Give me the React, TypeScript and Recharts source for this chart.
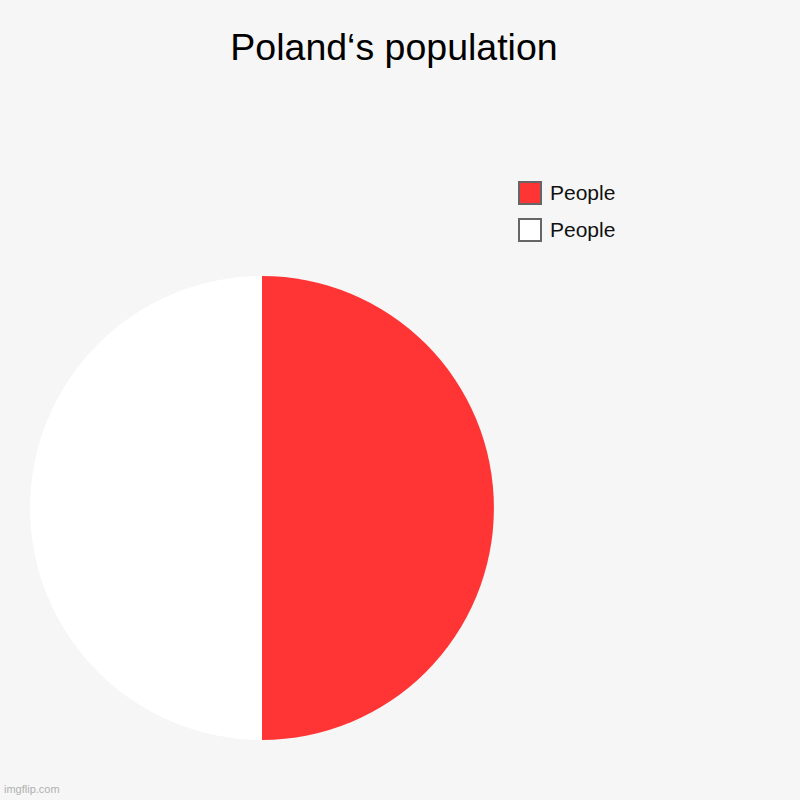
import { PieChart, Pie, Cell } from 'recharts';

const labels = ['People', 'People'];
const values = [50, 50];
const colors = ['#ff3535', '#ffffff'];

const data = labels.map((name, i) => ({ name, value: values[i], fill: colors[i] }));

const font = '"Liberation Sans", Arial, sans-serif';

function LegendBox() {
  return (
    <div style={{ position: 'absolute', left: 518, top: 174, fontFamily: font }}>
      {data.map((d, i) => (
        <div key={i} style={{ display: 'flex', alignItems: 'center', height: 37 }}>
          <div
            style={{
              width: 20,
              height: 20,
              background: d.fill,
              border: '2px solid #666',
            }}
          />
          <span style={{ marginLeft: 8, fontSize: 21, color: '#111' }}>{d.name}</span>
        </div>
      ))}
    </div>
  );
}

export default function App() {
  return (
    <div
      style={{
        position: 'fixed',
        left: 0,
        top: 0,
        width: 800,
        height: 800,
        background: '#f6f6f6',
        fontFamily: font,
      }}
    >
      <div
        style={{
          position: 'absolute',
          top: 26,
          left: 0,
          width: 788,
          textAlign: 'center',
          fontSize: 37.5,
          color: '#000',
        }}
      >
        Poland‘s population
      </div>
      <PieChart
        width={800}
        height={800}
        margin={{ top: 0, right: 0, bottom: 0, left: 0 }}
        style={{ position: 'absolute', left: 0, top: 0 }}
      >
        <Pie
          data={data}
          dataKey="value"
          nameKey="name"
          cx={262}
          cy={508}
          outerRadius={232}
          startAngle={90}
          endAngle={-270}
          stroke="none"
          isAnimationActive={false}
        >
          {data.map((d, i) => (
            <Cell key={i} fill={d.fill} />
          ))}
        </Pie>
      </PieChart>
      <LegendBox />
      <div
        style={{
          position: 'absolute',
          left: 4,
          top: 783,
          fontSize: 11,
          color: '#b0b0b0',
        }}
      >
        imgflip.com
      </div>
    </div>
  );
}
